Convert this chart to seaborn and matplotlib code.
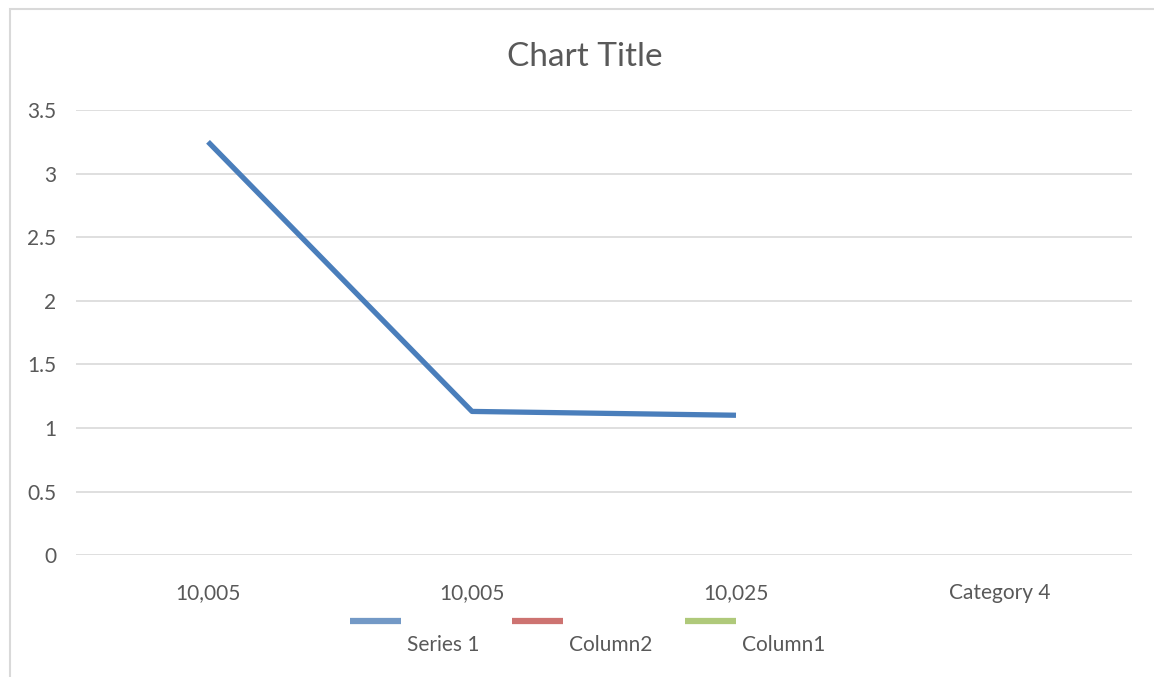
import numpy as np
import pandas as pd
import matplotlib.pyplot as plt
import seaborn as sns
from matplotlib.lines import Line2D
from matplotlib.patches import Rectangle

# Chart data
categories = ["10,005", "10,005", "10,025", "Category 4"]
series1 = [3.25, 1.13, 1.10, np.nan]
y_ticks = [0, 0.5, 1, 1.5, 2, 2.5, 3, 3.5]
y_tick_labels = ["0", "0.5", "1", "1.5", "2", "2.5", "3", "3.5"]
legend_names = ["Series 1", "Column2", "Column1"]
legend_colors = ["#7399C6", "#CD7371", "#AFC97A"]

sns.set_theme(style="white")
plt.rcParams['font.family'] = ['Lato', 'DejaVu Sans']
text_color = "#595959"
W, H = 1154, 677

fig = plt.figure(figsize=(11.54, 6.77), dpi=100)
ax = fig.add_axes([0.0659, 0.180, 0.915, 0.6575])

df = pd.DataFrame({"pos": np.arange(len(categories)), "value": series1})
sns.lineplot(data=df, x="pos", y="value", ax=ax, color="#4A7EBB",
             linewidth=3.8, solid_capstyle="butt")

ax.set_xlim(-0.5, len(categories) - 0.5)
ax.set_ylim(0, 3.5)
ax.set_yticks(y_ticks)
ax.set_yticklabels(y_tick_labels)
ax.set_xticks(df["pos"])
ax.set_xticklabels(categories)
ax.yaxis.grid(True, color="#D9D9D9", linewidth=1.2)
ax.set_axisbelow(True)
for s in ax.spines.values():
    s.set_visible(False)
ax.tick_params(axis="x", length=0, pad=20, labelsize=15, labelcolor=text_color)
ax.tick_params(axis="y", length=0, pad=14, labelsize=15, labelcolor=text_color)
ax.set_xlabel("")
ax.set_ylabel("")

fig.text(0.5065, 1 - 57 / H, "Chart Title", ha="center", va="center",
         fontsize=24, color=text_color)

# legend: colour bars with their names set lower and to the right
bar_left = [350, 512, 685]
for x0, name, c in zip(bar_left, legend_names, legend_colors):
    fig.add_artist(Line2D([x0 / W, (x0 + 51) / W], [1 - 621 / H] * 2,
                          transform=fig.transFigure, color=c, linewidth=4.5,
                          solid_capstyle="butt"))
    fig.text((x0 + 57) / W, 1 - 645 / H, name, ha="left", va="center",
             fontsize=15, color=text_color)

# outer chart border
fig.patches.append(Rectangle((10 / W, -0.05), 1.2, 1 - 9 / H + 0.05,
                             transform=fig.transFigure, fill=False,
                             edgecolor="#D9D9D9", linewidth=1.5))

fig.savefig("out.png", dpi=100)
